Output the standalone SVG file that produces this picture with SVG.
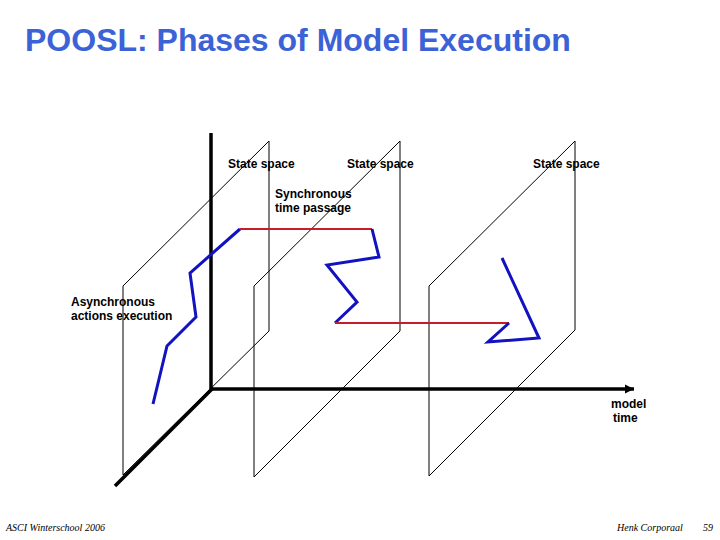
<svg xmlns="http://www.w3.org/2000/svg" width="720" height="540" viewBox="0 0 720 540">
<style>
.plane{fill:none;stroke:#000;stroke-width:1}
.axis{fill:none;stroke:#000;stroke-width:3.5;stroke-linecap:butt}
.act{fill:none;stroke:#1212C0;stroke-width:3;stroke-linejoin:miter}
.sync{fill:none;stroke:#C41E2A;stroke-width:2}
.lbl{font-family:"Liberation Sans",Arial,sans-serif;font-size:12px;font-weight:bold;fill:#000}
.title{font-family:"Liberation Sans",Arial,sans-serif;font-size:32px;font-weight:bold;fill:#3B62D6}
.foot{font-family:"Liberation Serif","Times New Roman",serif;font-size:10px;font-style:italic;fill:#000}
</style>
<defs>
<marker id="arr" markerUnits="userSpaceOnUse" markerWidth="10" markerHeight="10" refX="9" refY="5" orient="auto">
<path d="M0,0.5 L9,5 L0,9.5 Z" fill="#000"/>
</marker>
</defs>
<rect width="720" height="540" fill="#fff"/>
<text class="title" x="25" y="51">POOSL: Phases of Model Execution</text>
<g id="planes">
<g id="plane1"><polygon class="plane" points="123,286 269,141 269,331 123,475"/></g>
<g id="plane2"><polygon class="plane" points="254,286 400,141 400,331 254,477"/></g>
<g id="plane3"><polygon class="plane" points="429,286 575,141 575,330 429,476"/></g>
</g>
<g id="connectors">
<line class="axis" x1="211" y1="133" x2="211" y2="389"/>
<line class="axis" x1="115" y1="486" x2="212" y2="389"/>
<line class="axis" x1="210" y1="389" x2="634" y2="389" marker-end="url(#arr)"/>
<polyline class="act" points="153,404 167,346 196,317 190,273 240,229"/>
<line class="sync" x1="240" y1="229" x2="372" y2="229"/>
<polyline class="act" points="372,229 379,257 327,265 357,302 335,323"/>
<line class="sync" x1="335" y1="323" x2="509" y2="323"/>
<polyline class="act" points="509,323 488,342 539,338 502,258"/>
</g>
<g id="labels">
<text class="lbl" x="228" y="168">State space</text>
<text class="lbl" x="347" y="168">State space</text>
<text class="lbl" x="533" y="168">State space</text>
<text class="lbl" x="275" y="197.5">Synchronous</text>
<text class="lbl" x="275" y="212">time passage</text>
<text class="lbl" x="71" y="306">Asynchronous</text>
<text class="lbl" x="71" y="320">actions execution</text>
<text class="lbl" x="611" y="408">model</text>
<text class="lbl" x="613" y="422">time</text>
</g>
<g id="footer">
<text class="foot" x="6" y="531">ASCI Winterschool 2006</text>
<text class="foot" x="617" y="531">Henk Corporaal</text>
<text class="foot" x="703" y="531">59</text>
</g>
</svg>
